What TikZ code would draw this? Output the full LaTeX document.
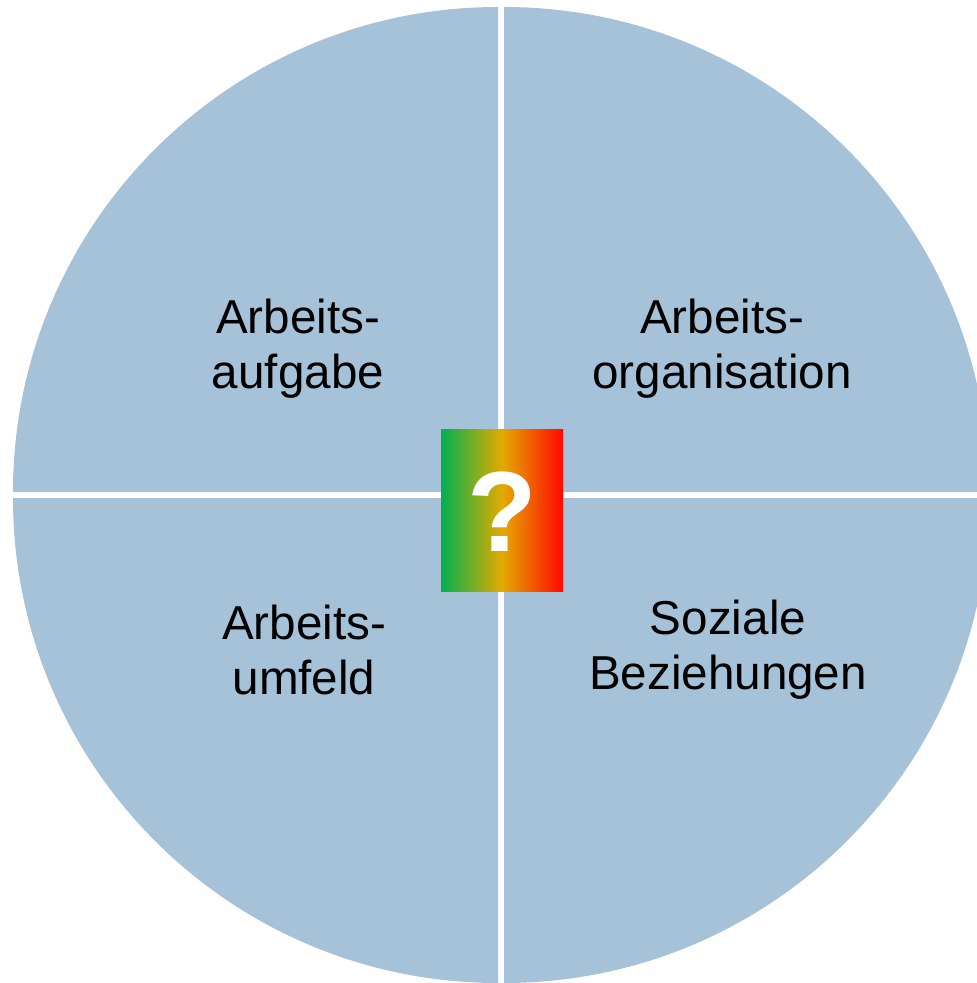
\documentclass[tikz,border=0pt]{standalone}
\usepackage{fontspec}
\setmainfont{Liberation Sans}
\definecolor{quarter}{RGB}{165,194,216}
\definecolor{qgreen}{RGB}{0,176,80}
\definecolor{qgold}{RGB}{228,170,0}
\definecolor{qred}{RGB}{255,8,0}
\begin{document}
\begin{tikzpicture}[x=0.5pt,y=-0.5pt]
		\tikzstyle{every node}+=[inner sep=0pt]
		\tikzstyle{label}=[align=center,font=\fontsize{23.8}{27.5}\selectfont]
		\useasboundingbox (0,0) rectangle (977,983);
		\fill [white] (0,0) rectangle (977,983);
		\clip (0,0) rectangle (977,983);
		% quarters
		\fill [quarter] (498,492) -- (13,492) arc (180:270:485) -- cycle;
		\fill [quarter] (504,492) -- (504,7) arc (270:360:485) -- cycle;
		\fill [quarter] (498,498) -- (498,983) arc (90:180:485) -- cycle;
		\fill [quarter] (504,498) -- (989,498) arc (0:90:485) -- cycle;
		\node [label] (aufgabe) at (298,349) {Arbeits-\\aufgabe};
		\node [label] (organisation) at (722,349) {Arbeits-\\organisation};
		\node [label] (umfeld) at (304,650) {Arbeits-\\umfeld};
		\node [label] (beziehungen) at (728,650) {Soziale\\Beziehungen};
		% center box
		\shade [left color=qgreen,right color=qred,middle color=qgold] (441,429) rectangle (563,591);
		\node [text=white,font=\fontsize{57}{60}\bfseries\selectfont] (frage) at (502,512) {?};
\end{tikzpicture}
\end{document}
